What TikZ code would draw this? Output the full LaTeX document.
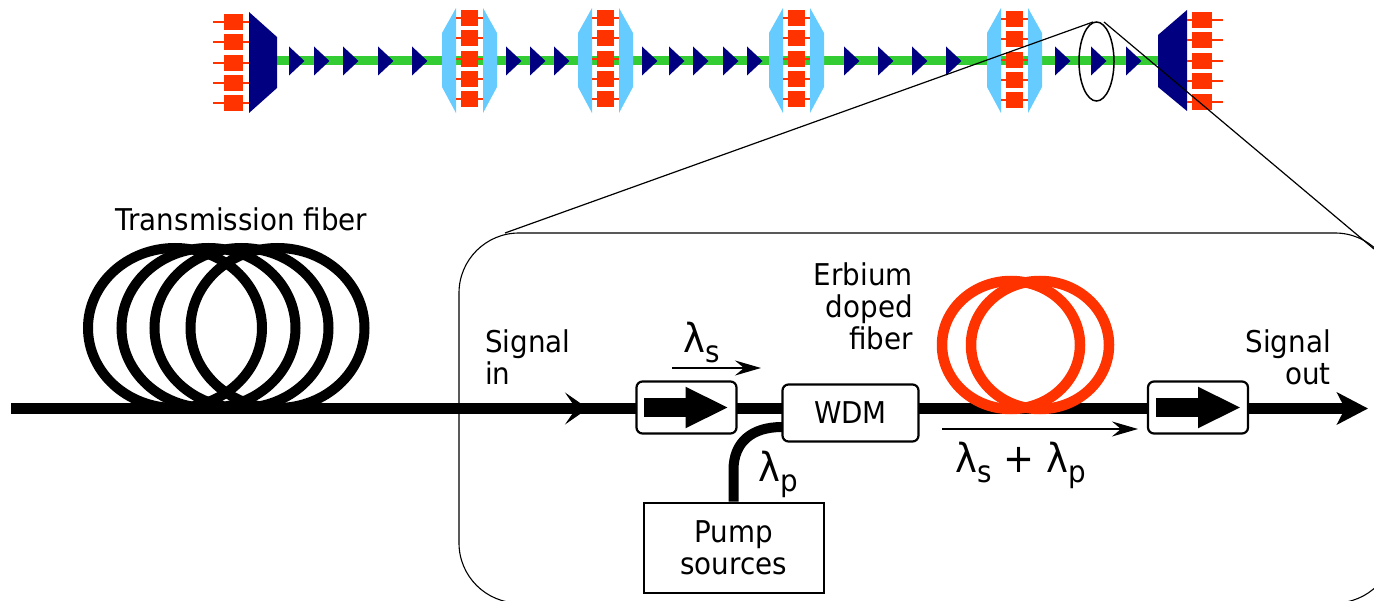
\documentclass[tikz,border=0pt]{standalone}
\usepackage{fontspec}
\setmainfont[FakeStretch=0.925]{DejaVu Sans}
\usetikzlibrary{arrows.meta}
\definecolor{chred}{HTML}{FF3300}
\definecolor{chgreen}{HTML}{33CC33}
\definecolor{chnavy}{HTML}{000080}
\definecolor{chblue}{HTML}{66CCFF}
\newcommand{\lam}[1]{{\fontsize{40}{40}\selectfont λ}\raisebox{-10pt}{#1}}
\tikzset{
  redbox/.style={fill=chred,draw=none,inner sep=0pt,minimum width=#1,minimum height=16.5pt},
  redlead/.style={draw=chred,line width=1.7pt},
  amp/.style={fill=chnavy},
  oadmside/.style={fill=chblue},
  txt/.style={inner sep=0pt,font=\fontsize{30}{32}\selectfont},
  fiber/.style={line width=11pt,draw=black},
  isobox/.style={draw=black,fill=white,line width=2.2pt,rounded corners=6pt,minimum width=100pt,minimum height=52pt,inner sep=0pt},
  thin arrow/.style={line width=2pt,-{Stealth[length=26pt,width=15pt,inset=9pt]}},
  big head/.style={-{Stealth[length=31pt,width=32pt,inset=8pt]}},
  mid head/.style={line width=1pt,-{Stealth[length=23pt,width=32pt,inset=11pt]}},
  iso arrow/.style={line width=19pt,-{Triangle[length=43pt,width=38pt]}}
}
\newcommand{\oadm}[2]{%
  \fill[oadmside] (#1,8) -- (#1-14,33) -- (#1-14,87) -- (#1,113) -- cycle;
  \fill[oadmside] (#1+27,8) -- (#1+41,33) -- (#1+41,87) -- (#1+27,113) -- cycle;
  \foreach \k/\yy in {1/18,2/38,3/59,4/79,5/99}{
    \draw[redlead] (#1,\yy+#2) -- (#1+27,\yy+#2);
    \node[redbox=17pt] (oadm#1b\k) at (#1+13.5,\yy+#2) {};
  }%
}
\newcommand{\ampl}[1]{\fill[amp] (#1,46.5) -- (#1+15.5,61) -- (#1,75.5) -- cycle;}
\begin{document}
\begin{tikzpicture}[x=1pt,y=-1pt]
\useasboundingbox (0,0) rectangle (1374,601);
% --- top chain
\coordinate (lineL) at (277,61);
\coordinate (lineR) at (1160,61);
\draw[chgreen,line width=9pt] (lineL) -- (lineR);
\fill[chnavy] (249,12) -- (277,37) -- (277,88) -- (249,113) -- cycle;
\foreach \k/\yy in {1/22,2/42,3/63,4/83,5/103}{
  \draw[redlead] (213,\yy) -- (249,\yy);
  \node[redbox=19pt] (tx\k) at (233.5,\yy) {};
}
\fill[chnavy] (1187,10) -- (1158,35) -- (1158,87) -- (1187,111) -- cycle;
\foreach \k/\yy in {1/20,2/40,3/61,4/81,5/102}{
  \draw[redlead] (1187,\yy) -- (1223,\yy);
  \node[redbox=20pt] (rx\k) at (1202,\yy) {};
}
\oadm{456}{0}
\oadm{592}{0}
\oadm{783}{0}
\oadm{1001}{1}
\foreach \xx in {289,314,343,378,412,506,530,554,642,669,693,723,747,844,878,912,946,1055,1091,1126}{\ampl{\xx}}
% --- zoom
\draw[line width=1.5pt] (1096.5,61.5) ellipse [x radius=17.5,y radius=39.5];
\coordinate (zoomA) at (1093,22);
\coordinate (zoomB) at (1104,22);
\coordinate (panelL) at (505,233);
\coordinate (panelR) at (1374,249);
\draw[line width=1.2pt] (zoomA) -- (panelL);
\draw[line width=1.2pt] (zoomB) -- (panelR);
\begin{scope}
\clip (0,0) rectangle (1374,601);
\node[draw=black,line width=1.1pt,rounded corners=60pt,minimum width=936pt,minimum height=370pt,inner sep=0pt] (panel) at (927,418) {};
\end{scope}
% --- nodes of the amplifier
\node[isobox] (iso1) at (686.5,407.5) {};
\node[isobox] (iso2) at (1198,407.5) {};
\node[draw=black,fill=white,line width=2.2pt,rounded corners=6pt,minimum width=136pt,minimum height=57pt,inner sep=0pt,font=\fontsize{30}{32}\selectfont] (wdm) at (850.5,413) {WDM};
\node[draw=black,fill=white,line width=2pt,minimum width=180pt,minimum height=90pt,inner sep=0pt,align=center,font=\fontsize{30}{32}\selectfont] (pump) at (733.5,547.5) {Pump\\sources};
\coordinate (fstart) at (11,408.5);
\coordinate (fback) at (565,408.5);
\coordinate (fmid) at (588,408.5);
\coordinate (fend) at (1368,408.5);
\coordinate (wdmin) at (782,427);
\coordinate (wdmL) at (782,408.5);
\coordinate (wdmR) at (919,408.5);
\coordinate (iso1L) at (636,408.5);
\coordinate (iso1R) at (737,408.5);
\coordinate (iso2L) at (1148,408.5);
\coordinate (iso2R) at (1248,408.5);
\draw[fiber] (fstart) -- (iso1L);
\draw[mid head] (fback) -- (fmid);
\draw[fiber] (iso1R) -- (wdmL);
\draw[fiber] (wdmR) -- (iso2L);
\draw[fiber,big head] (iso2R) -- (fend);
\draw[line width=10pt] (pump.north) -- (733.5,470) .. controls (733.5,442) and (752,427) .. (wdmin);
% --- coils
\foreach \cx in {175,208.5,241.5,277.5}{
  \draw[line width=10pt] (\cx,328) ellipse [x radius=87,y radius=80];
}
\foreach \cx in {1011,1040}{
  \draw[chred,line width=10.5pt] (\cx,345) ellipse [x radius=69,y radius=64];
}
% --- isolator arrows
\draw[iso arrow] ([xshift=9pt]iso1.west) -- ([xshift=-9pt]iso1.east);
\draw[iso arrow] ([xshift=9pt]iso2.west) -- ([xshift=-8pt]iso2.east);
% --- thin arrows
\coordinate (sA) at (672,368);
\coordinate (sB) at (761,368);
\coordinate (spA) at (942,429);
\coordinate (spB) at (1138,429);
\draw[thin arrow] (sA) -- (sB);
\draw[thin arrow] (spA) -- (spB);
% --- labels
\node[txt] (ltf) at (241.5,219) {Transmission fiber};
\node[txt,align=left,anchor=north west] (lsi) at (485,330) {Signal\\in};
\node[txt,align=right,anchor=north east] (led) at (913,263) {Erbium\\doped\\fiber};
\node[txt,align=right,anchor=north east] (lso) at (1331,330) {Signal\\out};
\node[txt] (ls) at (702,343) {\lam{s}};
\node[txt] (lp) at (778,474) {\lam{p}};
\node[txt] (lsp) at (1021,465) {\lam{s}\hspace{3pt} {\fontsize{40}{40}\selectfont +}\hspace{3pt} \lam{p}};
\end{tikzpicture}
\end{document}
